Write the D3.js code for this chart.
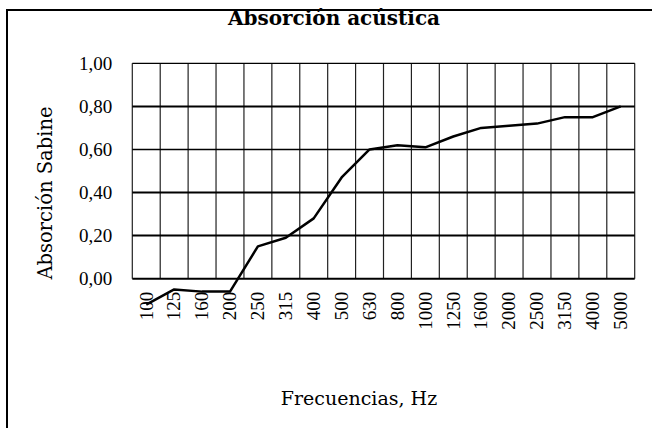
<!DOCTYPE html>
<html>
<head>
<meta charset="utf-8">
<script src="https://cdn.jsdelivr.net/npm/d3@7"></script>
<style>
  body { margin: 0; background: #fff; }
  text { font-family: "DejaVu Serif", serif; fill: #000; }
</style>
</head>
<body>
<svg id="chart"></svg>
<script>
// frecuencias (bandas de tercio de octava)
var frecuencias = ["100", "125", "160", "200", "250", "315", "400", "500", "630",
                   "800", "1000", "1250", "1600", "2000", "2500", "3150", "4000", "5000"];
// coeficiente de absorción Sabine
var absorcion = [-0.12, -0.05, -0.06, -0.06, 0.15, 0.19, 0.28, 0.47, 0.60,
                 0.62, 0.61, 0.66, 0.70, 0.71, 0.72, 0.75, 0.75, 0.80];
var yTicks = [0, 0.2, 0.4, 0.6, 0.8, 1.0];

var screen = {width: 652, height: 428};
var plot = {left: 132.3, right: 634.7, top: 63.3, bottom: 278.7};

var svg = d3.select("#chart")
    .attr("width", screen.width)
    .attr("height", screen.height);

// marco exterior (solo se ve arriba y a la izquierda)
svg.append("rect")
    .attr("x", 7)
    .attr("y", 10)
    .attr("width", 700)
    .attr("height", 500)
    .attr("fill", "none")
    .attr("stroke", "#000")
    .attr("stroke-width", 2);

var xScale = d3.scaleBand()
    .domain(frecuencias)
    .range([plot.left, plot.right])
    .padding(0);

var yScale = d3.scaleLinear()
    .domain([0, 1])
    .range([plot.bottom, plot.top]);

// líneas verticales en los bordes de cada banda
var edges = frecuencias.map(function(f) { return xScale(f); }).concat([plot.right]);
svg.append("g")
    .selectAll("line")
    .data(edges)
    .enter()
    .append("line")
    .attr("x1", function(d) { return d; })
    .attr("x2", function(d) { return d; })
    .attr("y1", yScale(1))
    .attr("y2", yScale(0))
    .attr("stroke", "#222")
    .attr("stroke-width", 1.2);

// líneas horizontales
svg.append("g")
    .selectAll("line")
    .data(yTicks)
    .enter()
    .append("line")
    .attr("x1", plot.left)
    .attr("x2", plot.right)
    .attr("y1", function(d) { return yScale(d); })
    .attr("y2", function(d) { return yScale(d); })
    .attr("stroke", "#000")
    .attr("stroke-width", function(d) { return d == 1 ? 1.2 : (d == 0.6 ? 1.4 : 2); });

// eje Y
var yAxis = d3.axisLeft(yScale)
    .tickValues(yTicks)
    .tickSize(0)
    .tickPadding(20)
    .tickFormat(function(d) { return d3.format(".2f")(d).replace(".", ","); });

svg.append("g")
    .attr("transform", "translate(" + plot.left + ",0)")
    .call(yAxis)
    .call(function(g) { g.select(".domain").remove(); })
    .selectAll("text")
    .style("font-family", "'Liberation Serif', serif")
    .style("font-size", "19px")
    .attr("dy", "0.33em");

// eje X con etiquetas verticales
var xAxis = d3.axisBottom(xScale).tickSize(0);

svg.append("g")
    .attr("transform", "translate(0," + plot.bottom + ")")
    .call(xAxis)
    .call(function(g) { g.select(".domain").remove(); })
    .selectAll("text")
    .style("font-family", "'Liberation Serif', serif")
    .style("font-size", "19px")
    .attr("text-anchor", "end")
    .attr("x", 0)
    .attr("y", 0)
    .attr("dy", "0.33em")
    .attr("transform", "translate(0,13) rotate(-90)");

// serie
var line = d3.line()
    .x(function(d, i) { return xScale(frecuencias[i]) + xScale.bandwidth() / 2; })
    .y(function(d) { return yScale(d); });

svg.append("path")
    .datum(absorcion)
    .attr("d", line)
    .attr("fill", "none")
    .attr("stroke", "#000")
    .attr("stroke-width", 2.5)
    .attr("stroke-linejoin", "round");

// títulos
svg.append("text")
    .attr("x", 334)
    .attr("y", 25)
    .attr("text-anchor", "middle")
    .style("font-size", "20px")
    .style("font-weight", "bold")
    .text("Absorción acústica");

svg.append("text")
    .attr("x", 359)
    .attr("y", 405)
    .attr("text-anchor", "middle")
    .style("font-size", "19px")
    .text("Frecuencias, Hz");

svg.append("text")
    .attr("transform", "translate(52,193) rotate(-90)")
    .attr("text-anchor", "middle")
    .style("font-size", "19.5px")
    .text("Absorción Sabine");
</script>
</body>
</html>
